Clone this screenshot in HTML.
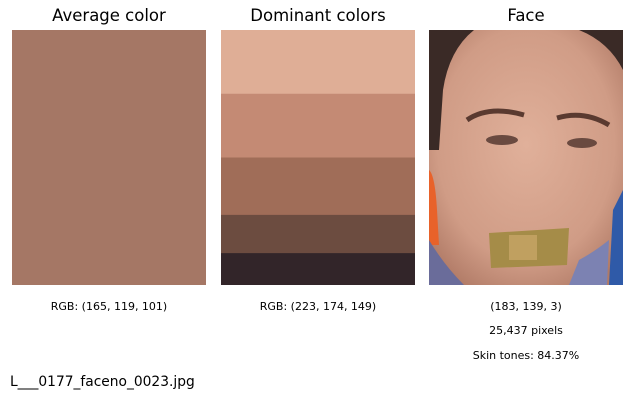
<!DOCTYPE html>
<html><head><meta charset="utf-8"><style>
body{margin:0;width:632px;height:401px;background:#fff;position:relative;overflow:hidden;font-family:"DejaVu Sans","Liberation Sans",sans-serif}
.t{position:absolute;font-size:16.5px;color:#000;text-align:center;width:194px}
.s{position:absolute;font-size:11px;text-align:center;width:194px;color:#000}
.p{position:absolute;top:30px;width:194px;height:255px}
</style></head><body>
<div class="t" style="left:12px;top:6px">Average color</div>
<div class="t" style="left:221px;top:6px">Dominant colors</div>
<div class="t" style="left:429px;top:6px">Face</div>
<div class="p" style="left:12px;background:rgb(165,119,101)"></div>
<svg class="p" style="left:221px" width="194" height="255" id="dom"></svg>
<svg class="p" style="left:429px" width="194" height="255" viewBox="0 0 194 255">
<defs><radialGradient id="sk" cx="0.5" cy="0.45" r="0.65"><stop offset="0" stop-color="#e0b09a"/><stop offset="0.7" stop-color="#d09c86"/><stop offset="1" stop-color="#b07a66"/></radialGradient></defs>
<rect width="194" height="255" fill="url(#sk)"/>
<path d="M0 0H45Q20 20 14 60L10 120H0Z" fill="#3a2a26"/>
<path d="M150 0H194V40Q180 12 150 0Z" fill="#3a2a26"/>
<path d="M0 140Q6 145 8 180L10 215H0Z" fill="#e8622a"/>
<path d="M194 160L184 180L180 255H194Z" fill="#2f5aa8"/>
<path d="M0 210Q15 235 35 255H0Z" fill="#6a6c9a"/>
<path d="M150 230Q165 222 180 210L178 255H140Z" fill="#7c82b2"/>
<path d="M38 90Q60 75 95 85" stroke="#5a3a30" stroke-width="5" fill="none"/>
<path d="M128 88Q155 80 180 95" stroke="#5a3a30" stroke-width="5" fill="none"/>
<ellipse cx="73" cy="110" rx="16" ry="5" fill="#6a4a40"/>
<ellipse cx="153" cy="113" rx="15" ry="5" fill="#6a4a40"/>
<path d="M60 203L140 198L138 235L62 238Z" fill="#a58c48"/>
<rect x="80" y="205" width="28" height="25" fill="#c0a060"/>
</svg>
<div class="s" style="left:12px;top:300px">RGB: (165, 119, 101)</div>
<div class="s" style="left:221px;top:300px">RGB: (223, 174, 149)</div>
<div class="s" style="left:429px;top:300px">(183, 139, 3)</div>
<div class="s" style="left:429px;top:324px">25,437 pixels</div>
<div class="s" style="left:429px;top:349px">Skin tones: 84.37%</div>
<div style="position:absolute;left:10px;top:374px;font-size:13.8px">L___0177_faceno_0023.jpg</div>
<script>
const colors=["#dfae96","#c48a74","#a06d58","#6c4c40","#322529"];
const shares=[0.25,0.25,0.225,0.15,0.125];
const svg=document.getElementById('dom');
let y=0;const H=255;
for(let i=0;i<colors.length;i++){
 const r=document.createElementNS('http://www.w3.org/2000/svg','rect');
 const h=shares[i]*H;
 r.setAttribute('x',0);r.setAttribute('y',y);r.setAttribute('width',194);r.setAttribute('height',h+0.5);
 r.setAttribute('fill',colors[i]);
 
 
 svg.appendChild(r);y+=h;
}
</script>
</body></html>
